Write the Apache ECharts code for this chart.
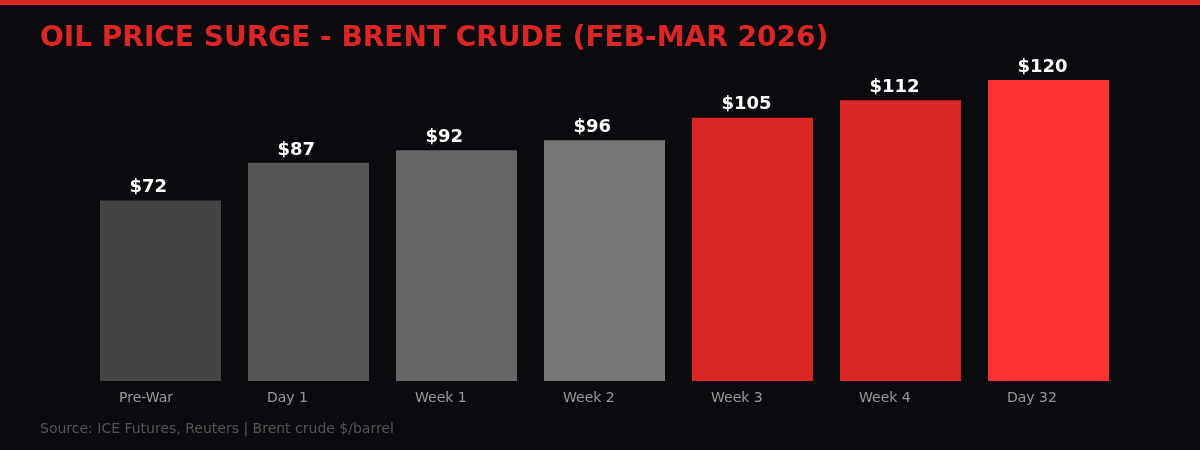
<!DOCTYPE html>
<html>
<head>
<meta charset="utf-8">
<script src="https://cdn.jsdelivr.net/npm/echarts@6/dist/echarts.min.js"></script>
<style>
html,body{margin:0;padding:0;background:#0b0b0f;}
#c{width:1200px;height:450px;}
</style>
</head>
<body>
<div id="c"></div>
<script>
const categories = ['Pre-War', 'Day 1', 'Week 1', 'Week 2', 'Week 3', 'Week 4', 'Day 32'];
const prices = [72, 87, 92, 96, 105, 112, 120];
const barColors = ['#444444', '#555555', '#666666', '#777777', '#dc2626', '#dc2626', '#ff3333'];
const titleText = 'OIL PRICE SURGE - BRENT CRUDE (FEB-MAR 2026)';
const sourceText = 'Source: ICE Futures, Reuters | Brent crude $/barrel';

const chart = echarts.init(document.getElementById('c'), null, {renderer: 'canvas'});
const font = 'DejaVu Sans';
chart.setOption({
  backgroundColor: '#0b0b0f',
  animation: false,
  graphic: [
    {type: 'rect', shape: {x: 0, y: 0, width: 1200, height: 5}, style: {fill: '#dc2626'}},
    {type: 'text', left: 40, top: 25, style: {text: titleText, fill: '#dc2626', font: 'bold 28px "DejaVu Sans"'}},
    {type: 'text', left: 40, top: 422, style: {text: sourceText, fill: '#555555', font: '14px "DejaVu Sans"'}}
  ],
  grid: {left: 86.5, width: 1036, top: 55, height: 326, containLabel: false},
  xAxis: {
    type: 'category',
    data: categories,
    axisLine: {show: false},
    axisTick: {show: false},
    axisLabel: {
      margin: 10,
      color: '#999999',
      fontFamily: font,
      fontSize: 14,
      formatter: v => '{a|' + v + '}',
      rich: {a: {width: 83, align: 'left', color: '#999999', fontFamily: font, fontSize: 14}}
    }
  },
  yAxis: {
    type: 'value', min: 0, max: 130,
    show: false, splitLine: {show: false}
  },
  series: [{
    type: 'bar',
    barWidth: 121,
    data: prices.map((v, i) => ({value: v, itemStyle: {color: barColors[i]}})),
    label: {
      show: true, position: 'top', distance: 4,
      formatter: p => '{b|$' + p.value + '}',
      rich: {b: {width: 62, align: 'left', color: '#ffffff', fontFamily: font, fontWeight: 'bold', fontSize: 18}},
      color: '#ffffff', fontFamily: font, fontWeight: 'bold', fontSize: 18
    }
  }]
});
</script>
</body>
</html>
